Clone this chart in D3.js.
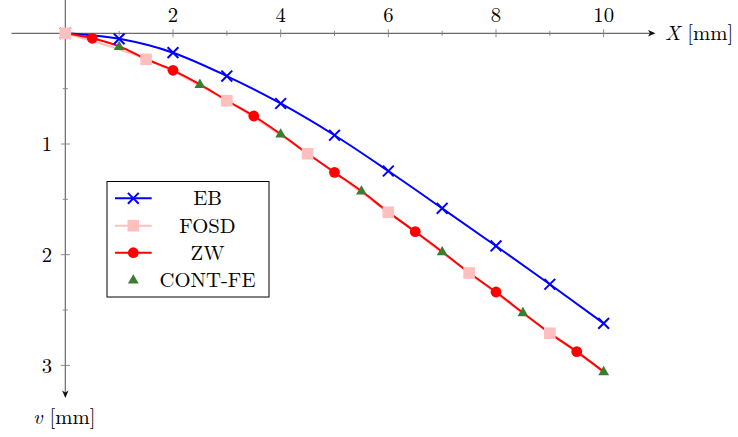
<!DOCTYPE html>
<html>
<head>
<meta charset="utf-8">
<script src="https://cdn.jsdelivr.net/npm/d3@7"></script>
<style>
  html, body { margin: 0; padding: 0; background: #fff; }
  svg { display: block; }
</style>
</head>
<body>
<svg id="chart" width="738" height="437"></svg>
<script>
// Deflection v [mm] along the beam axis X [mm]
const ebX   = [0, 1, 2, 3, 4, 5, 6, 7, 8, 9, 10];
const ebV   = [0, 0.05, 0.175, 0.386, 0.634, 0.921, 1.244, 1.581, 1.921, 2.267, 2.62];

const zwX   = [0, 0.5, 1, 1.5, 2, 2.5, 3, 3.5, 4, 4.5, 5, 5.5, 6, 6.5, 7, 7.5, 8, 8.5, 9, 9.5, 10];
const zwV   = [0, 0.045, 0.118, 0.232, 0.334, 0.461, 0.607, 0.747, 0.91, 1.086, 1.256,
               1.425, 1.615, 1.792, 1.973, 2.163, 2.337, 2.524, 2.708, 2.876, 3.057];
const zwMarkX = [0.5, 2, 3.5, 5, 6.5, 8, 9.5];

const fosdX = [0, 1.5, 3, 4.5, 6, 7.5, 9, 10];
const fosdV = [0, 0.235, 0.609, 1.088, 1.617, 2.165, 2.71, 3.057];
const fosdMarkX = [0, 1.5, 3, 4.5, 6, 7.5, 9];

const feX   = [1, 2.5, 4, 5.5, 7, 8.5, 10];
const feV   = [0.119, 0.461, 0.91, 1.425, 1.973, 2.524, 3.057];

const xTicksMajor = [2, 4, 6, 8, 10];
const xTicksMinor = [1, 3, 5, 7, 9];
const yTicksMajor = [1, 2, 3];
const yTicksMinor = [0.5, 1.5, 2.5];

const legendNames = ["EB", "FOSD", "ZW", "CONT-FE"];

const cBlue = "#0000ff", cPink = "#ffbfbf", cRed = "#ff0000", cGreen = "#3c7d32";
const serif = '"Latin Modern Roman", "Liberation Serif", serif';
const fs = "20.7px";

const svg = d3.select("#chart");
const x = d3.scaleLinear().domain([-1, 11]).range([11.5, 657.5]);
const y = d3.scaleLinear().domain([-0.3, 3.3]).range([0.1, 398.6]);

const x0 = x(0), y0 = y(0);
const axisColor = "#6a6a6a";

function label(g, px, py, anchor, size) {
  return g.append("text").attr("x", px).attr("y", py).attr("text-anchor", anchor || "start")
    .style("font-family", serif).style("font-size", size || fs).style("fill", "#000");
}

// axes through the origin
const ax = svg.append("g");
ax.append("line").attr("x1", x(-1)).attr("x2", 651).attr("y1", y0).attr("y2", y0)
  .attr("stroke", axisColor).attr("stroke-width", 1.2);
ax.append("line").attr("x1", x0).attr("x2", x0).attr("y1", y(-0.3)).attr("y2", 394)
  .attr("stroke", axisColor).attr("stroke-width", 1.2);
// arrow heads
ax.append("path").attr("d", `M${655.5},${y0} L${648},${y0 - 3.2} L${650},${y0} L${648},${y0 + 3.2} Z`)
  .attr("fill", "#111");
ax.append("path").attr("d", `M${x0},${398} L${x0 - 3.2},${390.5} L${x0},${392.5} L${x0 + 3.2},${390.5} Z`)
  .attr("fill", "#111");

// ticks
xTicksMajor.forEach(t => ax.append("line").attr("x1", x(t)).attr("x2", x(t))
  .attr("y1", y0 - 4).attr("y2", y0 + 4).attr("stroke", "#808080").attr("stroke-width", 0.9));
xTicksMinor.forEach(t => ax.append("line").attr("x1", x(t)).attr("x2", x(t))
  .attr("y1", y0 - 2.5).attr("y2", y0 + 2.5).attr("stroke", "#808080").attr("stroke-width", 0.9));
yTicksMajor.forEach(t => ax.append("line").attr("x1", x0 - 4.5).attr("x2", x0 + 4.5)
  .attr("y1", y(t)).attr("y2", y(t)).attr("stroke", "#808080").attr("stroke-width", 0.9));
yTicksMinor.forEach(t => ax.append("line").attr("x1", x0 - 2.5).attr("x2", x0 + 2.5)
  .attr("y1", y(t)).attr("y2", y(t)).attr("stroke", "#808080").attr("stroke-width", 0.9));

// tick labels
xTicksMajor.forEach(t => label(ax, x(t), 21.8, "middle").text(t));
yTicksMajor.forEach(t => label(ax, 52, y(t) + 7.4, "end").text(t));

// axis titles
const xt = label(ax, 665, 39.5);
xt.append("tspan").style("font-style", "italic").text("X");
xt.append("tspan").text(" [mm]");
const yt = label(ax, 33, 424);
yt.append("tspan").style("font-style", "italic").text("v");
yt.append("tspan").text(" [mm]");

// curves
const line = d3.line().x(d => x(d[0])).y(d => y(d[1])).curve(d3.curveMonotoneX);
const zip = (a, b) => a.map((v, i) => [v, b[i]]);
const ebPts = zip(ebX, ebV), zwPts = zip(zwX, zwV), fosdPts = zip(fosdX, fosdV), fePts = zip(feX, feV);

const plot = svg.append("g");
plot.append("path").attr("d", line(ebPts)).attr("fill", "none").attr("stroke", cBlue).attr("stroke-width", 2);
plot.append("path").attr("d", line(fosdPts)).attr("fill", "none").attr("stroke", cPink).attr("stroke-width", 2);
plot.append("path").attr("d", line(zwPts)).attr("fill", "none").attr("stroke", cRed).attr("stroke-width", 2);

// marker painters
function cross(g, cx, cy) {
  const s = 5.4;
  g.append("path").attr("d", `M${cx - s},${cy - s}L${cx + s},${cy + s}M${cx - s},${cy + s}L${cx + s},${cy - s}`)
    .attr("stroke", cBlue).attr("stroke-width", 2).attr("fill", "none");
}
function square(g, cx, cy) {
  g.append("rect").attr("x", cx - 5.8).attr("y", cy - 5.8).attr("width", 11.6).attr("height", 11.6).attr("fill", cPink);
}
function circle(g, cx, cy) {
  g.append("circle").attr("cx", cx).attr("cy", cy).attr("r", 5.4).attr("fill", cRed);
}
function triangle(g, cx, cy) {
  const h = 9.4, w = 10.8;
  g.append("path").attr("d", `M${cx},${cy - h * 0.62}L${cx + w / 2},${cy + h * 0.38}L${cx - w / 2},${cy + h * 0.38}Z`)
    .attr("fill", cGreen);
}

const marks = svg.append("g");
ebPts.forEach(p => cross(marks, x(p[0]), y(p[1])));
fosdPts.filter(p => fosdMarkX.includes(p[0])).forEach(p => square(marks, x(p[0]), y(p[1])));
zwPts.filter(p => zwMarkX.includes(p[0])).forEach(p => circle(marks, x(p[0]), y(p[1])));
fePts.forEach(p => triangle(marks, x(p[0]), y(p[1])));

// legend
const lg = svg.append("g");
lg.append("rect").attr("x", 107).attr("y", 181.5).attr("width", 162).attr("height", 115.5)
  .attr("fill", "#fff").attr("stroke", "#000").attr("stroke-width", 1);
const rowY = [198.3, 225.7, 252.7, 280];
const painters = [cross, square, circle, triangle];
const colors = [cBlue, cPink, cRed, null];
legendNames.forEach((name, i) => {
  if (colors[i]) {
    lg.append("line").attr("x1", 115).attr("x2", 151.7).attr("y1", rowY[i]).attr("y2", rowY[i])
      .attr("stroke", colors[i]).attr("stroke-width", 2);
  }
  painters[i](lg, 133.3, rowY[i]);
  label(lg, 207.5, rowY[i] + 6.9, "middle").text(name);
});
</script>
</body>
</html>
